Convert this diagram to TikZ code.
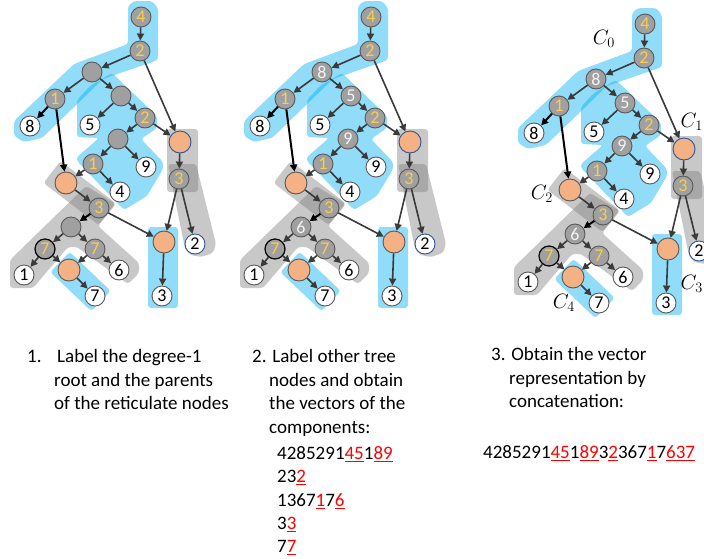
\documentclass[tikz,border=0pt]{standalone}
\usepackage{fontspec}
\setmainfont{Carlito}
\usetikzlibrary{arrows.meta}
\definecolor{cblue}{HTML}{00B0F0}
\definecolor{cgray}{HTML}{808080}
\definecolor{nodegray}{HTML}{A0A0A0}
\definecolor{edgec}{HTML}{3A3A3A}
\definecolor{orng}{HTML}{F4B183}
\definecolor{ylw}{RGB}{250,205,80}
\definecolor{rimblue}{HTML}{2F5597}
\definecolor{outl}{HTML}{595959}
\definecolor{labw}{HTML}{F4F4F4}
\newcommand\nodefont{\fontsize{18}{18}\selectfont}
\newcommand\txtfont{\fontsize{19}{23.5}\selectfont}
\newcommand\ru[1]{{\color{red}\setbox0=\hbox{#1}\rlap{\rule[-3pt]{\wd0}{1.3pt}}\box0}}
\tikzset{
 every node/.style={inner sep=0pt},
 gnode/.style={circle, draw=outl, line width=0.9pt, fill=nodegray, minimum size=20pt, text=ylw, font=\nodefont},
 wnode/.style={circle, draw=outl, line width=0.9pt, fill=white, minimum size=20pt, text=black, font=\nodefont},
 onode/.style={circle, draw=outl, line width=0.9pt, fill=orng, minimum size=22pt},
 edg/.style={draw=edgec, line width=1.6pt, -{Triangle[length=7pt,width=7pt]}},
 bedg/.style={draw=black, line width=2pt, -{Triangle[length=7pt,width=7pt]}},
 bluearea/.style={fill=cblue, fill opacity=0.43, rounded corners=3pt},
 grayarea/.style={fill=cgray, fill opacity=0.43, rounded corners=3pt},
 txt/.style={anchor=base west, font=\txtfont},
 clab/.style={font=\fontsize{21}{21}\selectfont},
}
\newcommand\netpanel[5]{%
 \fill[bluearea] (128,6) -- (134,1) -- (152,1) -- (158,8) -- (158,60) -- (103,79) -- (42,138) -- (24,142) -- (14,136) -- (14,121) -- (74,64) -- (128,44) -- cycle;
 \fill[bluearea] (112,73) -- (90,86) -- (77,100) -- (77,137) -- (99,138) -- (77,157) -- (77,161) -- (124,210) -- (147,196) -- (163,169) -- (163,162) -- (141,139) -- (157,128) -- (157,116) -- cycle;
 \fill[grayarea] (167,129) rectangle (198,192);
 \fill[grayarea] (168,164) -- (196,164) -- (216,244) -- (213,253) -- (201,257) -- (190,255) -- (185,249) -- cycle;
 \fill[grayarea] (60.5,161) -- (43.5,183) -- (98.5,225) -- (115.5,203) -- cycle;
 \fill[grayarea] (10,260) -- (86,186) -- (116,204) -- (98,226) -- (139,263) -- (139,273) -- (128,284) -- (77,247) -- (68,247) -- (33,288) -- (10,288) -- cycle;
 \fill[bluearea] (69.7,251.9) -- (50.3,272.1) -- (91.3,311.1) -- (110.7,290.9) -- cycle;
 \fill[bluearea] (148,227) rectangle (178,308);
 \node[gnode] (#1n4) at (141,17) {4};
 \node[gnode] (#1n2) at (140,51) {2};
 \node[gnode,text=labw] (#1a) at (92,72) {#2};
 \node[gnode] (#1o1) at (55,99) {1};
 \node[wnode] (#1l8) at (30,126) {8};
 \node[gnode,text=labw] (#1b) at (121,96) {#3};
 \node[wnode] (#1l5) at (90,125) {5};
 \node[gnode] (#1t2) at (145,118) {2};
 \node[gnode,text=labw] (#1c) at (118,139) {#4};
 \node[onode,draw=rimblue] (#1r1) at (180,142) {};
 \node[gnode] (#1t1) at (93,164) {1};
 \node[wnode] (#1l9) at (146,167) {9};
 \node[wnode] (#1l4) at (120,192) {4};
 \node[onode] (#1r2) at (66,183) {};
 \node[gnode] (#1s3) at (179,179) {3};
 \node[gnode] (#1u3) at (99,208) {3};
 \node[gnode,text=labw] (#1d) at (71,227) {#5};
 \node[gnode,draw=black,line width=1.2pt] (#1s7) at (45,249) {7};
 \node[gnode] (#1u7) at (95,249) {7};
 \node[wnode] (#1l1) at (24,275) {1};
 \node[onode] (#1r3) at (69,270) {};
 \node[wnode] (#1l6) at (119,270) {6};
 \node[wnode] (#1l7) at (95,296) {7};
 \node[onode] (#1r4) at (164,242) {};
 \node[wnode] (#1l3) at (162,296) {3};
 \node[wnode,draw=rimblue] (#1l2) at (195,244) {2};
 \draw[edg] (#1n4) -- (#1n2);
 \draw[edg] (#1n2) -- (#1a);
 \draw[edg] (#1n2) -- (#1r1);
 \draw[edg] (#1a) -- (#1o1);
 \draw[edg] (#1a) -- (#1b);
 \draw[bedg] (#1o1) -- (#1l8);
 \draw[bedg] (#1o1) -- (#1r2);
 \draw[edg] (#1b) -- (#1l5);
 \draw[edg] (#1b) -- (#1t2);
 \draw[edg] (#1t2) -- (#1c);
 \draw[edg] (#1t2) -- (#1r1);
 \draw[edg] (#1c) -- (#1t1);
 \draw[edg] (#1c) -- (#1l9);
 \draw[edg] (#1t1) -- (#1r2);
 \draw[edg] (#1t1) -- (#1l4);
 \draw[edg] (#1r2) -- (#1u3);
 \draw[edg] (#1r1) -- (#1s3);
 \draw[edg] (#1s3) -- (#1r4);
 \draw[edg] (#1s3) -- (#1l2);
 \draw[bedg] (#1u3) -- (#1d);
 \draw[edg] (#1u3) -- (#1r4);
 \draw[edg] (#1d) -- (#1s7);
 \draw[edg] (#1d) -- (#1u7);
 \draw[edg] (#1s7) -- (#1l1);
 \draw[edg] (#1s7) -- (#1r3);
 \draw[edg] (#1u7) -- (#1r3);
 \draw[edg] (#1u7) -- (#1l6);
 \draw[edg] (#1r3) -- (#1l7);
 \draw[edg] (#1r4) -- (#1l3);
}
\begin{document}
\begin{tikzpicture}[x=1pt,y=-1pt]
\useasboundingbox[fill=white] (0,0) rectangle (704,558);
\clip (0,0) rectangle (704,558);
\begin{scope}
 \netpanel{p}{}{}{}{}
\end{scope}
\begin{scope}[shift={(230,0)}]
 \netpanel{q}{8}{5}{9}{6}
\end{scope}
\begin{scope}[shift={(504,7)}]
 \netpanel{s}{8}{5}{9}{6}
\end{scope}
\node[clab] (c0) at (604,39) {$C_0$};
\node[clab,anchor=east] (c1) at (703,122) {$C_1$};
\node[clab] (c2) at (542,194) {$C_2$};
\node[clab,anchor=east] (c3) at (703,284) {$C_3$};
\node[clab] (c4) at (564,303) {$C_4$};
\node[txt] (t1n) at (27,362) {1.};
\node[txt] (t1a) at (57,362) {Label the degree-1};
\node[txt] (t1b) at (54,386) {root and the parents};
\node[txt] (t1c) at (54,409) {of the reticulate nodes};
\node[txt] (t2a) at (252,362) {2. Label other tree};
\node[txt] (t2b) at (269,386) {nodes and obtain};
\node[txt] (t2c) at (269,409) {the vectors of the};
\node[txt] (t2d) at (269,433) {components:};
\node[txt] (v1) at (277,459) {4285291\ru{45}1\ru{89}};
\node[txt] (v2) at (277,482) {23\ru{2}};
\node[txt] (v3) at (277,506) {1367\ru{1}7\ru{6}};
\node[txt] (v4) at (277,529) {3\ru{3}};
\node[txt] (v5) at (277,552) {7\ru{7}};
\node[txt] (t3a) at (491,360) {3. Obtain the vector};
\node[txt] (t3b) at (509,384) {representation by};
\node[txt] (t3c) at (509,407) {concatenation:};
\node[txt] (v6) at (483,458) {4285291\ru{45}1\ru{89}3\ru{2}367\ru{1}7\ru{637}};
\end{tikzpicture}
\end{document}
